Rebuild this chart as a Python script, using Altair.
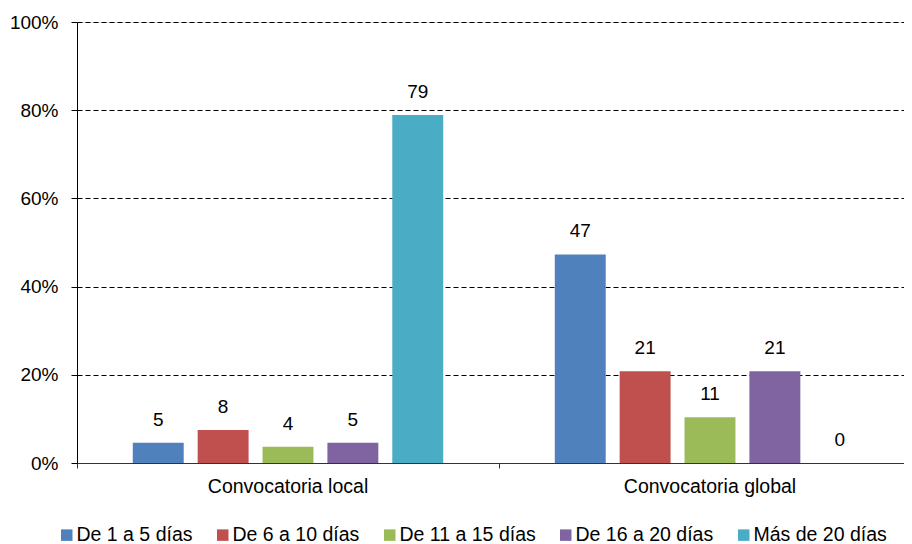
import altair as alt
import pandas as pd

categories = ["Convocatoria local", "Convocatoria global"]
series = ["De 1 a 5 días", "De 6 a 10 días", "De 11 a 15 días", "De 16 a 20 días", "Más de 20 días"]
local_values = [4.6, 7.5, 3.7, 4.6, 78.9]
global_values = [47.3, 20.8, 10.4, 20.8, 0.0]
local_labels = ["5", "8", "4", "5", "79"]
global_labels = ["47", "21", "11", "21", "0"]
colors = ["#4F81BD", "#C0504D", "#9BBB59", "#8064A2", "#4BACC6"]
y_ticks = [0, 20, 40, 60, 80, 100]

rows = []
for cat, vals, labs in [(categories[0], local_values, local_labels),
                        (categories[1], global_values, global_labels)]:
    for s, v, l in zip(series, vals, labs):
        rows.append({"category": cat, "series": s, "value": v, "label": l})
df = pd.DataFrame(rows)

FONT = "Liberation Sans"

base = alt.Chart(df).encode(
    x=alt.X(
        "category:N",
        sort=categories,
        scale=alt.Scale(range=[0, 844], paddingInner=0, paddingOuter=0),
        axis=alt.Axis(
            title=None, bandPosition=0, labelAngle=0,
            ticks=True, tickSize=5, tickColor="#333333", domainColor="#333333",
            labelFontSize=19.5, labelFont=FONT, labelColor="black",
            labelPadding=9, grid=False, labelOverlap=False, labelBound=False,
        ),
    ),
    xOffset=alt.XOffset(
        "series:N", sort=series,
        scale=alt.Scale(paddingInner=0.215, paddingOuter=0.86),
    ),
)

bars = base.mark_bar().encode(
    y=alt.Y(
        "value:Q",
        scale=alt.Scale(domain=[0, 100], nice=False),
        axis=alt.Axis(
            values=y_ticks, labelExpr="datum.value + '%'", title=None,
            grid=True, gridDash=[5, 3], gridColor="black", gridWidth=1,
            domainColor="black", tickColor="black", tickSize=6,
            labelPadding=13, labelFontSize=19, labelFont=FONT, labelColor="black",
        ),
    ),
    color=alt.Color(
        "series:N", sort=series,
        scale=alt.Scale(domain=series, range=colors),
        legend=alt.Legend(
            title=None, orient="none", legendX=-20, legendY=503,
            direction="horizontal", columns=5, symbolType="square",
            symbolSize=132, symbolStrokeWidth=0, labelFontSize=19.5,
            labelFont=FONT, labelColor="black", labelOffset=0,
            columnPadding=20, labelLimit=0,
        ),
    ),
)

text = base.mark_text(
    dy=-17, baseline="alphabetic", fontSize=19, font=FONT, color="black"
).encode(
    y=alt.Y("value:Q"),
    text=alt.Text("label:N"),
)

chart = alt.layer(bars, text).properties(
    width=827,
    height=441,
    padding={"left": 69, "top": 14, "right": 0, "bottom": 81},
    autosize=alt.AutoSizeParams(type="none"),
).configure_view(stroke=None).configure(background="white")

chart.save("out.html", embed_options={"renderer": "svg", "actions": False})
